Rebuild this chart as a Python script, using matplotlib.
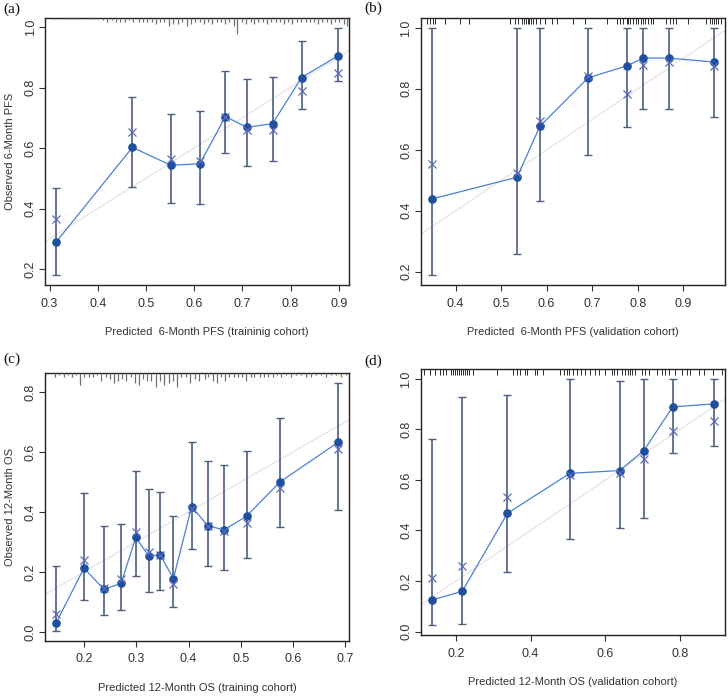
import matplotlib
matplotlib.use("Agg")
import matplotlib.pyplot as plt
import numpy as np

# ---------------- data ----------------
# (a) 6-month PFS, training cohort
a_pred = [0.314, 0.472, 0.552, 0.612, 0.665, 0.710, 0.763, 0.823, 0.898]
a_obs = [0.290, 0.602, 0.543, 0.548, 0.704, 0.668, 0.681, 0.833, 0.904]
a_corr = [0.367, 0.652, 0.564, 0.556, 0.704, 0.658, 0.659, 0.790, 0.849]
a_lo = [0.180, 0.471, 0.417, 0.416, 0.582, 0.542, 0.558, 0.730, 0.820]
a_hi = [0.467, 0.768, 0.714, 0.722, 0.853, 0.827, 0.834, 0.955, 0.997]

# (b) 6-month PFS, validation cohort
b_pred = [0.348, 0.535, 0.585, 0.691, 0.777, 0.812, 0.868, 0.967]
b_obs = [0.439, 0.510, 0.677, 0.836, 0.876, 0.901, 0.901, 0.888]
b_corr = [0.553, 0.523, 0.693, 0.841, 0.782, 0.878, 0.887, 0.874]
b_lo = [0.189, 0.258, 0.431, 0.584, 0.675, 0.734, 0.734, 0.707]
b_hi = [1.0, 1.0, 1.0, 1.0, 1.0, 1.0, 1.0, 1.0]

# (c) 12-month OS, training cohort
c_pred = [0.147, 0.200, 0.238, 0.271, 0.299, 0.324, 0.346, 0.371, 0.406,
          0.437, 0.468, 0.511, 0.575, 0.686]
c_obs = [0.031, 0.213, 0.142, 0.162, 0.315, 0.253, 0.257, 0.178, 0.418,
         0.354, 0.340, 0.386, 0.500, 0.632]
c_corr = [0.059, 0.241, 0.146, 0.176, 0.334, 0.266, 0.257, 0.159, 0.410,
          0.354, 0.338, 0.362, 0.480, 0.611]
c_lo = [0.003, 0.106, 0.057, 0.072, 0.187, 0.134, 0.141, 0.084, 0.276,
        0.221, 0.206, 0.246, 0.349, 0.405]
c_hi = [0.221, 0.462, 0.352, 0.360, 0.536, 0.475, 0.468, 0.388, 0.633,
        0.569, 0.558, 0.602, 0.714, 0.830]

# (d) 12-month OS, validation cohort
d_pred = [0.136, 0.217, 0.338, 0.505, 0.638, 0.703, 0.780, 0.890]
d_obs = [0.125, 0.159, 0.468, 0.626, 0.637, 0.716, 0.889, 0.901]
d_corr = [0.211, 0.258, 0.534, 0.621, 0.627, 0.684, 0.794, 0.835]
d_lo = [0.024, 0.029, 0.234, 0.366, 0.408, 0.448, 0.705, 0.733]
d_hi = [0.762, 0.927, 0.935, 1.0, 0.993, 1.0, 1.0, 1.0]

# distribution of predicted values (top rug)
a_rug_x = [0.312, 0.322, 0.333, 0.343, 0.352, 0.362, 0.372, 0.381, 0.391, 0.400,
           0.411, 0.420, 0.429, 0.437, 0.447, 0.456, 0.464, 0.474, 0.485, 0.493,
           0.502, 0.512, 0.520, 0.529, 0.538, 0.548, 0.557, 0.566, 0.574, 0.585,
           0.594, 0.602, 0.613, 0.621, 0.629, 0.638, 0.647, 0.656, 0.664, 0.673,
           0.682, 0.690, 0.699, 0.708, 0.717, 0.725, 0.733, 0.742, 0.751, 0.760,
           0.770, 0.779, 0.787, 0.795, 0.804, 0.813, 0.822, 0.832, 0.841, 0.849,
           0.857, 0.866, 0.875, 0.884, 0.892, 0.901, 0.910, 0.918]
a_rug_n = [0.5, 0.5, 0.5, 0.5, 0.5, 0.5, 0.5, 0.5, 0.5, 0.5,
           1, 2, 1, 2, 2, 2, 1, 2, 2, 2,
           2, 2, 3, 2, 2, 4, 3, 3, 2, 4,
           3, 2, 2, 3, 2, 3, 2, 2, 3, 2,
           4, 8, 2, 3, 2, 3, 2, 2, 3, 2,
           2, 2, 3, 2, 3, 2, 2, 2, 2, 2,
           3, 2, 2, 3, 2, 2, 3, 4]

b_rug_x = [0.336, 0.344, 0.350, 0.355, 0.377, 0.410, 0.430, 0.519, 0.530, 0.538,
           0.545, 0.550, 0.555, 0.558, 0.562, 0.565, 0.569, 0.576, 0.585, 0.596,
           0.611, 0.622, 0.657, 0.684, 0.732, 0.754, 0.761, 0.768, 0.776, 0.779,
           0.784, 0.790, 0.796, 0.801, 0.807, 0.812, 0.817, 0.823, 0.829, 0.834,
           0.863, 0.871, 0.878, 0.885, 0.911, 0.951, 0.959, 0.964, 0.968, 0.972,
           0.977, 0.984]

c_rug_x = [0.144, 0.152, 0.161, 0.169, 0.178, 0.184, 0.193, 0.201, 0.210, 0.217,
           0.225, 0.233, 0.242, 0.249, 0.257, 0.265, 0.273, 0.281, 0.289, 0.297,
           0.305, 0.313, 0.320, 0.329, 0.337, 0.346, 0.354, 0.362, 0.370, 0.378,
           0.386, 0.396, 0.403, 0.412, 0.420, 0.431, 0.438, 0.447, 0.455, 0.463,
           0.470, 0.478, 0.487, 0.494, 0.502, 0.510, 0.519, 0.526, 0.536, 0.544,
           0.552, 0.561, 0.570, 0.577, 0.587, 0.596, 0.606, 0.616, 0.625, 0.635,
           0.644, 0.654, 0.663, 0.673, 0.682, 0.692, 0.701]
c_rug_n = [2, 1, 2, 1, 2, 1, 6, 2, 2, 2,
           1, 4, 2, 3, 5, 4, 3, 4, 2, 5,
           6, 3, 4, 4, 7, 4, 6, 5, 4, 7,
           2, 2, 5, 3, 4, 3, 2, 4, 5, 2,
           4, 2, 2, 2, 2, 4, 2, 2, 2, 2,
           2, 2, 1, 2, 1, 2, 1, 1, 2, 2,
           1, 1, 2, 1, 1, 2, 1]

d_rug_x = [0.114, 0.130, 0.144, 0.157, 0.166, 0.173, 0.188, 0.193, 0.197, 0.204,
           0.209, 0.215, 0.220, 0.224, 0.229, 0.236, 0.246, 0.309, 0.354, 0.363,
           0.371, 0.385, 0.389, 0.412, 0.418, 0.434, 0.479, 0.488, 0.497, 0.504,
           0.513, 0.523, 0.535, 0.546, 0.559, 0.571, 0.583, 0.599, 0.617, 0.624,
           0.631, 0.644, 0.653, 0.660, 0.666, 0.672, 0.680, 0.697, 0.706, 0.717,
           0.738, 0.751, 0.760, 0.771, 0.787, 0.805, 0.818, 0.827, 0.851, 0.865,
           0.887, 0.912]

panels = [
    dict(tag="(a)", pred=a_pred, obs=a_obs, corr=a_corr, lo=a_lo, hi=a_hi,
         xticks=[0.3, 0.4, 0.5, 0.6, 0.7, 0.8, 0.9], yticks=[0.2, 0.4, 0.6, 0.8, 1.0],
         xlabel="Predicted  6-Month PFS (traininig cohort)", ylabel="Observed 6-Month PFS",
         rug=a_rug_x, rugn=a_rug_n, box=(45, 18, 349, 285), tagpos=(3, 9), xlab_dx=0.033),
    dict(tag="(b)", pred=b_pred, obs=b_obs, corr=b_corr, lo=b_lo, hi=b_hi,
         xticks=[0.4, 0.5, 0.6, 0.7, 0.8, 0.9], yticks=[0.2, 0.4, 0.6, 0.8, 1.0],
         xlabel="Predicted  6-Month PFS (validation cohort)", ylabel=None,
         rug=b_rug_x, rugn=None, box=(420.7, 18, 725, 285), tagpos=(364, 8), xlab_dx=0.0),
    dict(tag="(c)", pred=c_pred, obs=c_obs, corr=c_corr, lo=c_lo, hi=c_hi,
         xticks=[0.2, 0.3, 0.4, 0.5, 0.6, 0.7], yticks=[0.0, 0.2, 0.4, 0.6, 0.8],
         xlabel="Predicted 12-Month OS (training cohort)", ylabel="Observed 12-Month OS",
         rug=c_rug_x, rugn=c_rug_n, box=(45, 373, 349.3, 641), tagpos=(3, 359), xlab_dx=0.0),
    dict(tag="(d)", pred=d_pred, obs=d_obs, corr=d_corr, lo=d_lo, hi=d_hi,
         xticks=[0.2, 0.4, 0.6, 0.8], yticks=[0.0, 0.2, 0.4, 0.6, 0.8, 1.0],
         xlabel="Predicted 12-Month OS (validation cohort)", ylabel=None,
         rug=d_rug_x, rugn=None, box=(420.7, 369, 725, 635.3), tagpos=(364, 361), xlab_dx=0.0),
]

W, H = 728, 696
plt.rcParams['font.family'] = ['Liberation Sans', 'DejaVu Sans']
fig = plt.figure(figsize=(W / 100, H / 100), dpi=100)
fig.patch.set_facecolor("white")

TXT = "#333333"
BAR = "#4d5f7e"
DOT = "#1f4f9e"
LINE = "#4a80d6"
XM = "#5b6cbc"

for p in panels:
    x0, y0, x1, y1 = p["box"]
    ax = fig.add_axes([x0 / W, 1 - y1 / H, (x1 - x0) / W, (y1 - y0) / H])
    ah = y1 - y0
    # limits: R style 4% extension
    xs = np.array(p["pred"])
    lo = np.array(p["lo"]); hi = np.array(p["hi"])
    xr = xs.max() - xs.min()
    yr = hi.max() - lo.min()
    ax.set_xlim(xs.min() - 0.04 * xr, xs.max() + 0.04 * xr)
    ax.set_ylim(lo.min() - 0.04 * yr, hi.max() + 0.04 * yr)

    # ideal line
    ax.axline((0, 0), (1, 1), color="#e6e6e6", lw=1.0, zorder=1)

    # error bars
    ax.errorbar(p["pred"], p["obs"], yerr=[np.array(p["obs"]) - lo, hi - np.array(p["obs"])],
                fmt="none", ecolor=BAR, elinewidth=1.2, capsize=2.6, capthick=1.0, zorder=2)

    # connecting line with gaps (type='b')
    for i in range(len(xs) - 1):
        ax.annotate("", xy=(p["pred"][i + 1], p["obs"][i + 1]), xytext=(p["pred"][i], p["obs"][i]),
                    arrowprops=dict(arrowstyle="-", color=LINE, lw=0.9, shrinkA=3.0, shrinkB=3.0),
                    zorder=3)
    ax.plot(p["pred"], p["obs"], "o", ms=5.2, color=DOT, mec=DOT, zorder=4)
    ax.plot(p["pred"], p["corr"], "x", ms=5.5, color=XM, mew=0.9, zorder=4)

    # rug on top
    trans = ax.get_xaxis_transform()
    if p["rugn"] is None:
        L = 6.0 / ah
        ax.vlines(p["rug"], 1 - L, 1, transform=trans, color="#2a2a2a", lw=0.7, zorder=5)
    else:
        n = np.array(p["rugn"], dtype=float)
        ax.vlines(p["rug"], 1 - n * 2.0 / ah, 1, transform=trans, color="#707070", lw=0.9, zorder=5)

    ax.set_xticks(p["xticks"])
    ax.set_xticklabels([f"{v:.1f}" for v in p["xticks"]])
    ax.set_yticks(p["yticks"])
    ax.set_yticklabels([f"{v:.1f}" for v in p["yticks"]])
    ax.tick_params(direction="out", length=4, width=0.8, colors=TXT, labelsize=9, pad=5)
    ax.tick_params(axis="y", labelrotation=90, pad=2)
    for lab in ax.get_yticklabels():
        lab.set_va("center")
    for s in ax.spines.values():
        s.set_color("#222222")
        s.set_linewidth(1.0)

    ax.set_xlabel(p["xlabel"], fontsize=8, color=TXT)
    ax.xaxis.label.set_va("center")
    ax.xaxis.set_label_coords(0.5 + p["xlab_dx"], -47.0 / ah)
    if p["ylabel"]:
        ax.set_ylabel(p["ylabel"], fontsize=8, color=TXT)
        ax.yaxis.label.set_va("center")
        ax.yaxis.set_label_coords(-(x0 - 10) / (x1 - x0), 0.5)

    fig.text(p["tagpos"][0] / W, 1 - p["tagpos"][1] / H, p["tag"], fontsize=11,
             family="Liberation Serif", color="#111111", ha="left", va="center")

fig.savefig("out.png", dpi=100, facecolor="white")
